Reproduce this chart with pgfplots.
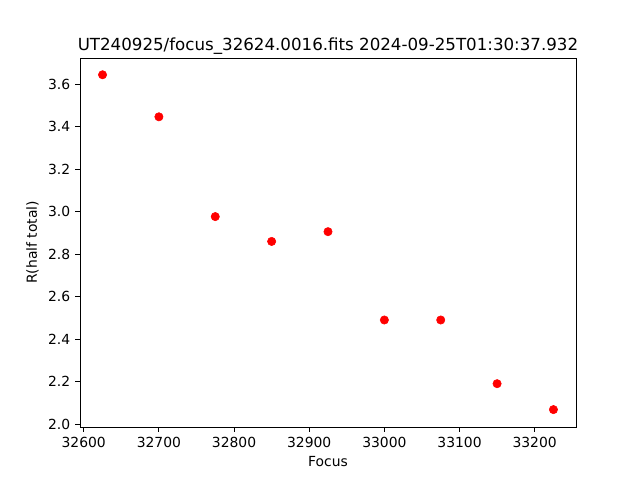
\documentclass[border=0pt]{standalone}
\usepackage{pgfplots}
\pgfplotsset{compat=1.18}
\usepackage{fontspec}
\setmainfont{DejaVu Sans}
\begin{document}
\begin{tikzpicture}
\begin{axis}[
  name=ax,
  scale only axis,
  width=357.12pt, height=265.68pt,
  xmin=32595, xmax=33255,
  ymin=1.986, ymax=3.724,
  xtick={32600,32700,32800,32900,33000,33100,33200},
  ytick={2.0,2.2,2.4,2.6,2.8,3.0,3.2,3.4,3.6},
  scaled ticks=false,
  /pgf/number format/assume math mode=true,
  x tick label style={/pgf/number format/fixed, /pgf/number format/precision=0, /pgf/number format/set thousands separator={}},
  y tick label style={/pgf/number format/fixed, /pgf/number format/fixed zerofill, /pgf/number format/precision=1},
  tick align=outside,
  major tick length=3.5pt,
  tick pos=left,
  ticklabel style={font=\fontsize{10}{12}\selectfont},
  xlabel={Focus}, ylabel={R(half total)},
  label style={font=\fontsize{10}{12}\selectfont},
  title={UT240925/focus\_32624.0016.fits 2024-09-25T01:30:37.932},
  title style={font=\fontsize{12}{14}\selectfont, yshift=-7pt},
  axis line style={line width=0.6pt},
  every tick/.style={line width=0.6pt, black},
]
\addplot[only marks, mark=*, mark size=3pt, color=red, mark options={fill=red, draw=red}] coordinates {
(32625,3.645) (32700,3.447) (32775,2.977) (32850,2.860) (32925,2.906)
(33000,2.490) (33075,2.490) (33150,2.190) (33225,2.068)
};
\end{axis}
\path (ax.south west) ++(-57.6pt,-38.16pt) rectangle ++(460.8pt,345.6pt);
\end{tikzpicture}
\end{document}
